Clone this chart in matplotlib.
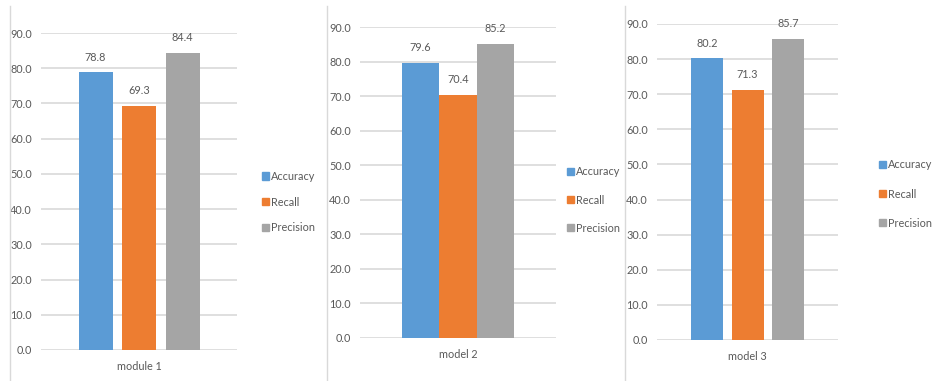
import numpy as np
import matplotlib
matplotlib.use("Agg")
import matplotlib.pyplot as plt
from matplotlib.lines import Line2D

plt.rcParams['font.family'] = ['Lato', 'DejaVu Sans']

# Scores per model (%)
metrics = ['Accuracy', 'Recall', 'Precision']
model_names = ['module 1', 'model 2', 'model 3']
accuracy = [78.8, 79.6, 80.2]
recall = [69.3, 70.4, 71.3]
precision = [84.4, 85.2, 85.7]
y_ticks = [0, 10, 20, 30, 40, 50, 60, 70, 80, 90]

colors = ['#5B9BD5', '#ED7D31', '#A5A5A5']
text_color = '#595959'
grid_color = '#D9D9D9'
fs = 7.8

W, H = 932, 381
fig = plt.figure(figsize=(W / 100, H / 100), dpi=100)
fig.patch.set_facecolor('white')

# per panel layout in pixels: axes left, right, y of 0, y of 90,
# bar step (px), bar width (px), legend left, legend center y, legend row gap
panels = [
    dict(l=41, r=237, y0=350, y90=33, step=43.5, bw=34, lx=262, ly=202, gap=1.35),
    dict(l=360, r=556, y0=338, y90=27, step=37.5, bw=37.5, lx=567, ly=200, gap=1.58),
    dict(l=657, r=838, y0=340, y90=24, step=40.3, bw=32, lx=879, ly=194, gap=1.67),
]

for i, p in enumerate(panels):
    ax = fig.add_axes([p['l'] / W, 1 - p['y0'] / H,
                       (p['r'] - p['l']) / W, (p['y0'] - p['y90']) / H])
    vals = [accuracy[i], recall[i], precision[i]]
    half = (p['r'] - p['l']) / 2 / p['step']
    pos = np.array([-1, 0, 1])
    bars = ax.bar(pos, vals, width=p['bw'] / p['step'], color=colors,
                  label=metrics, zorder=3)
    for b, v in zip(bars, vals):
        ax.annotate(f'{v:.1f}', (b.get_x() + b.get_width() / 2, v),
                    xytext=(0, 7), textcoords='offset points',
                    ha='center', va='bottom', fontsize=fs, color=text_color)
    ax.set_xlim(-half, half)
    ax.set_ylim(0, 90)
    ax.set_yticks(y_ticks)
    ax.set_yticklabels([f'{t:.1f}' for t in y_ticks])
    ax.set_xticks([0])
    ax.set_xticklabels([model_names[i]])
    ax.tick_params(axis='y', length=0, pad=6.5, labelsize=fs, labelcolor=text_color)
    ax.tick_params(axis='x', length=0, pad=8, labelsize=fs, labelcolor=text_color)
    ax.grid(axis='y', color=grid_color, linewidth=1.2, zorder=0)
    for s in ax.spines.values():
        s.set_visible(False)
    ax.set_facecolor('none')
    fig.legend(handles=[plt.Rectangle((0, 0), 1, 1, color=c) for c in colors],
               labels=metrics, loc='center left',
               bbox_to_anchor=(p['lx'] / W, 1 - p['ly'] / H),
               frameon=False, fontsize=fs, labelcolor=text_color,
               handlelength=0.65, handleheight=0.65, handletextpad=0.2,
               labelspacing=p['gap'], borderpad=0, borderaxespad=0)

# thin frame edges between the three charts
for x in [10, 327, 625]:
    fig.add_artist(Line2D([x / W, x / W], [0, 1 - 6 / H],
                          transform=fig.transFigure, color='#D9D9D9', linewidth=1))

fig.savefig('out.png', dpi=100)
